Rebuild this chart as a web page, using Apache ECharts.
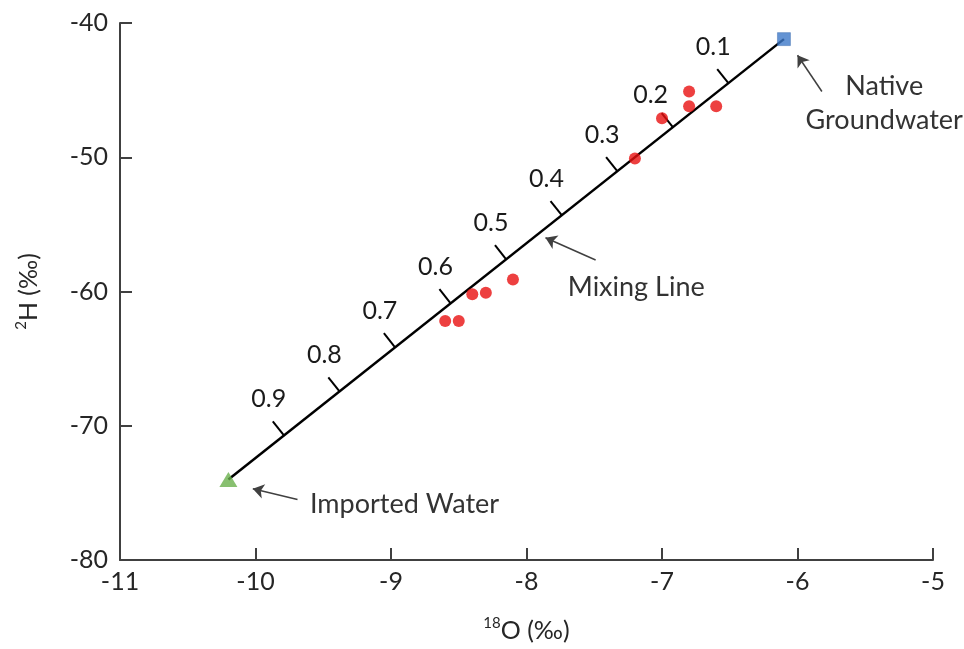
<!DOCTYPE html>
<html>
<head>
<meta charset="utf-8">
<script src="https://cdn.jsdelivr.net/npm/echarts@6/dist/echarts.min.js"></script>
<style>
  html, body { margin: 0; padding: 0; background: #fff; }
  #chart { width: 964px; height: 649px; }
</style>
</head>
<body>
<div id="chart"></div>
<script>
// Sample isotope values (δ18O, δ2H in ‰)
const sampleO18 = [-6.8, -6.8, -6.6, -7.0, -7.2, -8.1, -8.3, -8.4, -8.5, -8.6];
const sampleH2  = [-45.1, -46.2, -46.2, -47.1, -50.1, -59.1, -60.1, -60.2, -62.2, -62.2];

// End-members of the mixing line
const nativeGroundwater = [-6.1, -41.2];
const importedWater = [-10.2, -74.0];

// Fraction of imported water along the mixing line
const mixFractions = [0.1, 0.2, 0.3, 0.4, 0.5, 0.6, 0.7, 0.8, 0.9];
const mixLabels = ['0.1', '0.2', '0.3', '0.4', '0.5', '0.6', '0.7', '0.8', '0.9'];

// Axis ranges
const xMin = -11, xMax = -5, xStep = 1;
const yMin = -80, yMax = -40, yStep = 10;

// Callout arrows: [tail, head] in data units
const calloutArrows = [
  [[-5.82, -45.1], [-6.0, -42.4]],
  [[-7.49, -57.65], [-7.86, -56.0]],
  [[-9.69, -75.5], [-10.02, -74.7]]
];
// Callout texts: [x, y, text]
const calloutTexts = [
  [-5.36, -45.96, 'Native\nGroundwater'],
  [-7.19, -59.66, 'Mixing Line'],
  [-8.90, -75.82, 'Imported Water']
];

const FONT = 'Lato, "Open Sans", sans-serif';
const TEXT_COLOR = '#262626';
const AXIS_COLOR = '#404040';

const samples = sampleO18.map((x, i) => [x, sampleH2[i]]);
const mixPoints = mixFractions.map((f, i) => [
  nativeGroundwater[0] + f * (importedWater[0] - nativeGroundwater[0]),
  nativeGroundwater[1] + f * (importedWater[1] - nativeGroundwater[1]),
  mixLabels[i]
]);

// Label nudges (pixels) for crowded spots along the line
const labelNudge = { '0.2': [-7, 4] };

const nameRich = {
  sup: { fontSize: 15, fontFamily: FONT, color: TEXT_COLOR, verticalAlign: 'top', lineHeight: 14 },
  main: { fontSize: 25, fontFamily: FONT, color: TEXT_COLOR, lineHeight: 30 }
};

const chart = echarts.init(document.getElementById('chart'), null, { renderer: 'canvas' });

const option = {
  backgroundColor: '#ffffff',
  animation: false,
  grid: { left: 120, right: 31, top: 23, bottom: 89, containLabel: false },
  xAxis: {
    type: 'value',
    min: xMin, max: xMax, interval: xStep,
    name: '{sup|18}{main|O (‰)}',
    nameLocation: 'middle',
    nameGap: 56,
    nameTextStyle: { fontSize: 25, fontFamily: FONT, color: TEXT_COLOR, rich: nameRich },
    axisLine: { show: true, onZero: false, lineStyle: { color: AXIS_COLOR, width: 2 } },
    axisTick: { show: true, inside: true, length: 12, lineStyle: { color: AXIS_COLOR, width: 2 } },
    axisLabel: { fontSize: 25, fontFamily: FONT, color: TEXT_COLOR, margin: 9 },
    splitLine: { show: false }
  },
  yAxis: {
    type: 'value',
    min: yMin, max: yMax, interval: yStep,
    name: '{sup|2}{main|H (‰)}',
    nameLocation: 'middle',
    nameGap: 76,
    nameRotate: 90,
    nameTextStyle: { fontSize: 25, fontFamily: FONT, color: TEXT_COLOR, rich: nameRich },
    axisLine: { show: true, onZero: false, lineStyle: { color: AXIS_COLOR, width: 2 } },
    axisTick: { show: true, inside: true, length: 12, lineStyle: { color: AXIS_COLOR, width: 2 } },
    axisLabel: { fontSize: 25, fontFamily: FONT, color: TEXT_COLOR, margin: 12 },
    splitLine: { show: false }
  },
  series: [
    {
      // Mixing line between the two end-members
      type: 'line',
      data: [importedWater, nativeGroundwater],
      symbol: 'none',
      lineStyle: { color: '#000000', width: 2.5 },
      z: 2,
      silent: true
    },
    {
      // Fraction ticks and labels along the mixing line
      type: 'custom',
      data: mixPoints,
      encode: { x: 0, y: 1 },
      z: 3,
      silent: true,
      renderItem: function (params, api) {
        const p = api.coord([api.value(0), api.value(1)]);
        const a = api.coord(importedWater);
        const b = api.coord(nativeGroundwater);
        let dx = b[0] - a[0], dy = b[1] - a[1];
        const len = Math.hypot(dx, dy);
        dx /= len; dy /= len;
        // perpendicular pointing to the upper-left side of the line
        const nx = dy, ny = -dx;
        const L = 18;
        const end = [p[0] + nx * L, p[1] + ny * L];
        const label = api.value(2);
        const nudge = labelNudge[label] || [0, 0];
        return {
          type: 'group',
          children: [
            {
              type: 'line',
              shape: { x1: p[0], y1: p[1], x2: end[0], y2: end[1] },
              style: { stroke: '#000000', lineWidth: 2 }
            },
            {
              type: 'text',
              x: end[0] - 4 + nudge[0],
              y: end[1] - 22 + nudge[1],
              style: {
                text: label,
                fontSize: 25,
                fontFamily: FONT,
                fill: '#1a1a1a',
                align: 'center',
                verticalAlign: 'middle'
              }
            }
          ]
        };
      }
    },
    {
      // Water samples
      type: 'scatter',
      data: samples,
      symbol: 'circle',
      symbolSize: 12,
      itemStyle: { color: '#e81010' },
      z: 4
    },
    {
      type: 'scatter',
      name: 'Native Groundwater',
      data: [nativeGroundwater],
      symbol: 'rect',
      symbolSize: 13,
      itemStyle: { color: '#3c78c8', borderColor: '#2f62a8', borderWidth: 0.5 },
      z: 5
    },
    {
      type: 'scatter',
      name: 'Imported Water',
      data: [importedWater],
      symbol: 'triangle',
      symbolSize: [18, 15],
      itemStyle: { color: '#6ab04c' },
      z: 5
    },
    {
      // Callout arrows
      type: 'line',
      data: [],
      silent: true,
      markLine: {
        silent: true,
        symbol: ['none', 'arrow'],
        symbolSize: 11,
        label: { show: false },
        lineStyle: { color: '#404040', width: 1.5, type: 'solid' },
        data: calloutArrows.map(([tail, head]) => [{ coord: tail }, { coord: head }])
      }
    },
    {
      // Callout texts
      type: 'custom',
      data: calloutTexts,
      encode: { x: 0, y: 1 },
      silent: true,
      z: 6,
      renderItem: function (params, api) {
        const p = api.coord([api.value(0), api.value(1)]);
        return {
          type: 'text',
          x: p[0],
          y: p[1],
          style: {
            text: api.value(2),
            fontSize: 27,
            lineHeight: 34,
            fontFamily: FONT,
            fill: '#333333',
            align: 'center',
            verticalAlign: 'middle'
          }
        };
      }
    }
  ]
};

chart.setOption(option);
</script>
</body>
</html>
